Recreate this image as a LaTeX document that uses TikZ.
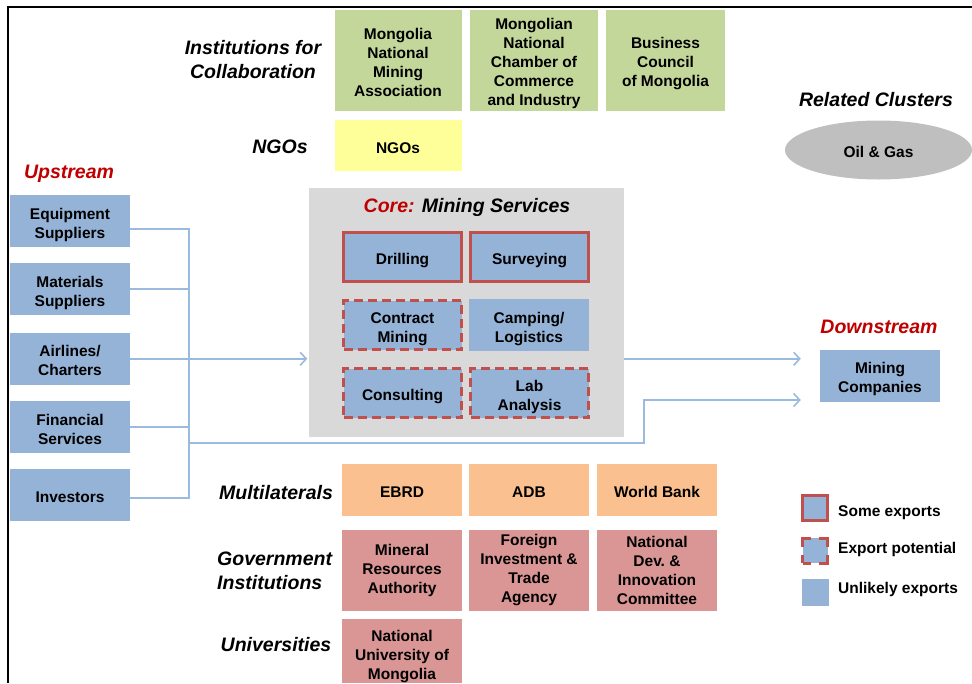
\documentclass[tikz,border=0pt]{standalone}
\usepackage{fontspec}
\setmainfont{Liberation Sans}
\usepackage{xcolor}
\usepackage{tikz}
\usetikzlibrary{shapes.geometric, arrows.meta, positioning, calc}
\definecolor{boxblue}{RGB}{149, 179, 215}
\definecolor{linkblue}{RGB}{155, 187, 222}
\definecolor{collabgreen}{RGB}{196, 215, 155}
\definecolor{ngoyellow}{RGB}{255, 255, 153}
\definecolor{multiorange}{RGB}{250, 192, 143}
\definecolor{govrose}{RGB}{217, 150, 148}
\definecolor{clustergray}{RGB}{191, 191, 191}
\definecolor{coregray}{RGB}{217, 217, 217}
\definecolor{exportred}{RGB}{192, 80, 77}
\definecolor{titlered}{RGB}{192, 0, 0}

\begin{document}
\begin{tikzpicture}[
    x=1pt, y=-1pt,
    cell/.style={
        rectangle,
        inner sep=0pt,
        align=center,
        font=\fontsize{15.5}{19}\selectfont\bfseries,
        execute at begin node={\rule{0pt}{19pt}},
        execute at end node={\rule[-4pt]{0pt}{4pt}}
    },
    lower/.style={execute at begin node={\rule{0pt}{#1}}},
    bluebox/.style={cell, fill=boxblue, minimum width=120, minimum height=52},
    greenbox/.style={cell, fill=collabgreen, minimum height=101},
    orangebox/.style={cell, fill=multiorange, minimum width=120, minimum height=52},
    rosebox/.style={cell, fill=govrose, minimum width=120},
    someexp/.style={draw=exportred, line width=3pt},
    potexp/.style={draw=exportred, line width=3pt, dash pattern=on 9pt off 5pt},
    grouplabel/.style={
        font=\fontsize{19.5}{24}\selectfont\bfseries\itshape,
        inner sep=0pt,
        align=center
    },
    streamlabel/.style={grouplabel, text=titlered},
    legendtext/.style={cell, anchor=west},
    link/.style={draw=linkblue, line width=2pt},
    arrow/.style={link, -{Straight Barb[length=6pt, width=13pt, line width=1.6pt]}}
]
\useasboundingbox (0,0) rectangle (972,683);

% frame
\draw[line width=2pt] (8,683) -- (8,7) -- (972,7);

% ==================== INSTITUTIONS FOR COLLABORATION ====================
\node (lbl_collab) [grouplabel] at (253,60) {Institutions for\\Collaboration};
\node (mnma) [greenbox, lower=75pt, minimum width=127] at (398,60.5) {Mongolia\\National\\Mining\\Association};
\node (mncci) [greenbox, lower=93pt, minimum width=128] at (534,60.5) {Mongolian\\National\\Chamber of\\Commerce\\and Industry};
\node (bcm) [greenbox, lower=55pt, minimum width=119] at (665.5,60.5) {Business\\Council\\of Mongolia};

\node (lbl_ngo) [grouplabel] at (280,147) {NGOs};
\node (ngo) [cell, fill=ngoyellow, minimum width=127, minimum height=51] at (398,145.5) {NGOs};

% ==================== RELATED CLUSTERS ====================
\node (lbl_related) [grouplabel] at (876,99.5) {Related Clusters};
\node (oilgas) [cell, ellipse, fill=clustergray, minimum width=187, minimum height=59] at (878.5,150) {Oil \& Gas};

% ==================== UPSTREAM ====================
\node (lbl_up) [streamlabel] at (69,173.5) {Upstream};
\node (equip) [bluebox, lower=38pt] at (70,221) {Equipment\\Suppliers};
\node (mater) [bluebox, lower=38pt, below=16pt of equip] {Materials\\Suppliers};
\node (air) [bluebox, lower=38pt, below=17pt of mater] {Airlines/\\Charters};
\node (fin) [bluebox, lower=38pt, below=16pt of air] {Financial\\Services};
\node (inv) [bluebox, below=15pt of fin] {Investors};

% ==================== CORE ====================
\node (core) [cell, fill=coregray, minimum width=315, minimum height=249] at (466,312) {};
\node (lbl_core) [grouplabel] at (467,207.5) {\textcolor{titlered}{Core:} Mining Services};
\node (drill) [bluebox, someexp, minimum width=118, minimum height=49] at (402.5,257) {Drilling};
\node (survey) [bluebox, someexp, minimum width=118, minimum height=49] at (529.5,257) {Surveying};
\node (contract) [bluebox, lower=38pt, potexp, minimum width=118, minimum height=49] at (402.5,325) {Contract\\Mining};
\node (camp) [bluebox, lower=38pt, minimum width=120] at (529,325) {Camping/\\Logistics};
\node (consult) [bluebox, potexp, minimum width=118, minimum height=49] at (402.5,393) {Consulting};
\node (lab) [bluebox, lower=38pt, potexp, minimum width=118, minimum height=49] at (529.5,393) {Lab\\Analysis};

% ==================== DOWNSTREAM ====================
\node (lbl_down) [streamlabel] at (879,326.5) {Downstream};
\node (mining) [bluebox, lower=36pt] at (880,376) {Mining\\Companies};

% ==================== SUPPORTING INSTITUTIONS ====================
\node (lbl_multi) [grouplabel] at (276,492.5) {Multilaterals};
\node (ebrd) [orangebox] at (402,490) {EBRD};
\node (adb) [orangebox] at (529,490) {ADB};
\node (wb) [orangebox] at (657,490) {World Bank};

\node (lbl_gov) [grouplabel, align=left, anchor=west] at (217,571) {Government\\Institutions};
\node (mra) [rosebox, minimum height=81] at (402,570.5) {Mineral\\Resources\\Authority};
\node (fita) [rosebox, minimum height=81] at (529,570.5) {Foreign\\Investment \&\\Trade\\Agency};
\node (ndic) [rosebox, lower=71pt, minimum height=81] at (657,570.5) {National\\Dev.\ \&\\Innovation\\Committee};

\node (lbl_univ) [grouplabel] at (276,644.5) {Universities};
\node (num) [rosebox, lower=60pt, minimum height=64] at (402,651) {National\\University of\\Mongolia};

% ==================== LEGEND ====================
\node (leg_some) [cell, fill=boxblue, someexp, minimum width=25, minimum height=25] at (815,508) {};
\node (leg_pot) [cell, fill=boxblue, draw=exportred, line width=3pt, dash pattern=on 17pt off 8pt, dash phase=8.5pt, minimum width=25, minimum height=25] at (815,550.5) {};
\node (leg_none) [cell, fill=boxblue, minimum width=27, minimum height=27] at (815,592.5) {};
\node (leg_some_t) [legendtext] at (838,509) {Some exports};
\node (leg_pot_t) [legendtext] at (838,546) {Export potential};
\node (leg_none_t) [legendtext] at (838,586) {Unlikely exports};

% ==================== CONNECTORS ====================
\coordinate (bus) at (189,229);
\coordinate (busjoin) at (189,443);
\coordinate (jog) at (644,443);
\draw [link] ($(equip.east)+(0,8)$) -- (bus) |- ($(inv.east)+(0,3)$);
\draw [link] (mater.east) -- (mater.east -| bus);
\draw [link] (fin.east) -- (fin.east -| bus);
\draw [arrow] (air.east) -- ([xshift=-1pt]air.east -| core.west);
\draw [arrow] (air.east -| core.east) -- ([xshift=-19pt]air.east -| mining.west);
\draw [arrow] (busjoin) -- (jog) |- ([xshift=-19pt, yshift=-24pt]mining.west);

\end{tikzpicture}
\end{document}
